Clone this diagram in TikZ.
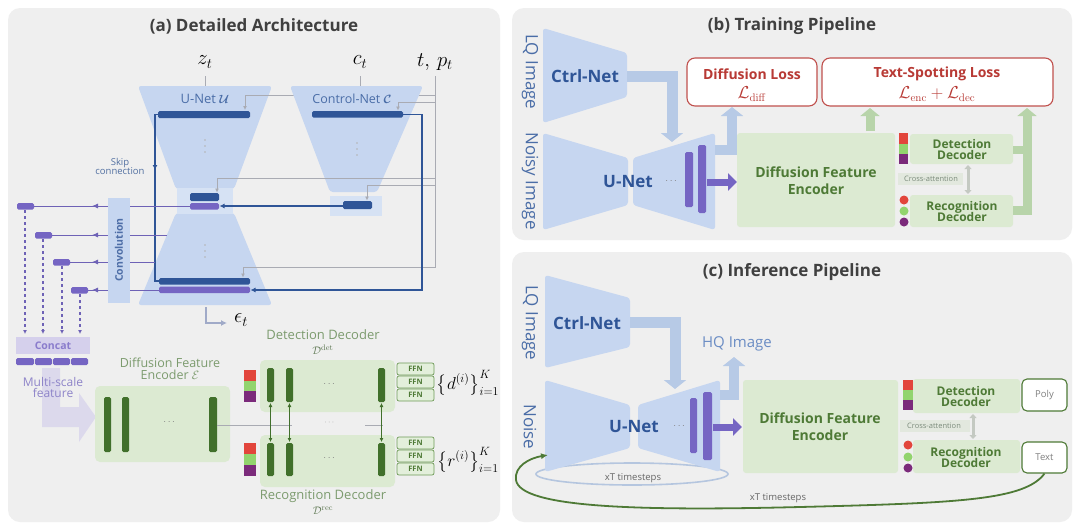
\documentclass[tikz,border=0pt]{standalone}
\usepackage[no-math]{fontspec}
\setmainfont{Open Sans}
\usepackage{amsmath}
\usetikzlibrary{arrows.meta,calc}
\definecolor{panelbg}{HTML}{EFEFEF}
\definecolor{titlegray}{HTML}{404040}
\definecolor{ublue}{HTML}{C6D6F0}
\definecolor{ubluelt}{HTML}{D6E2F4}
\definecolor{dblue}{HTML}{2F5597}
\definecolor{netlbl}{HTML}{4A6DA7}
\definecolor{purpbar}{HTML}{7565C3}
\definecolor{purpline}{HTML}{6E62B6}
\definecolor{glinec}{HTML}{A9ABB3}
\definecolor{lav}{HTML}{D5D0EC}
\definecolor{lavtext}{HTML}{8E84C9}
\definecolor{gbox}{HTML}{DCEAD2}
\definecolor{dgreen}{HTML}{41702B}
\definecolor{gtext}{HTML}{4E7A36}
\definecolor{glabel}{HTML}{7C9B6E}
\definecolor{lossred}{HTML}{C0504D}
\definecolor{losstext}{HTML}{B83A35}
\definecolor{arrblue}{HTML}{B7CAE6}
\definecolor{arrgreen}{HTML}{B8D4AA}
\definecolor{sqred}{HTML}{E2453C}
\definecolor{sqgreen}{HTML}{92D46E}
\definecolor{sqpurp}{HTML}{7B2A7B}
\definecolor{ffnfill}{HTML}{E3EFDB}
\definecolor{ffndraw}{HTML}{6E9A57}
\definecolor{cabox}{HTML}{E2E8DE}
\definecolor{catext}{HTML}{7A8A7A}
\definecolor{epsgray}{HTML}{A0AAC8}
\definecolor{hqblue}{HTML}{6A8CC4}
\definecolor{ellc}{HTML}{B5C6DF}
\tikzset{
  panel/.style={fill=panelbg, rounded corners=12},
  ttl/.style={font=\fontsize{17}{19}\selectfont\bfseries, text=titlegray},
  unet/.style={fill=ublue, rounded corners=3},
  dbar/.style={fill=dblue, rounded corners=1.5},
  pbar/.style={fill=purpbar, rounded corners=1.5},
  gbar/.style={fill=dgreen, rounded corners=1.5},
  gline/.style={draw=glinec, line width=0.8},
  garr/.style={gline, -{Latex[length=4pt,width=4pt]}},
  bline/.style={draw=dblue, line width=1.1},
  barr/.style={bline, -{Latex[length=5pt,width=5pt]}},
  pline/.style={draw=purpline, line width=0.9},
  parr/.style={pline, -{Latex[length=6pt,width=5pt]}},
  dasharr/.style={draw=purpline, line width=1.1, dashed, -{Latex[length=4pt,width=4pt]}},
  greenbox/.style={fill=gbox, rounded corners=5},
  ffnbox/.style={draw=ffndraw, fill=ffnfill, rounded corners=2, line width=0.7,
     font=\fontsize{7.5}{8}\selectfont\bfseries, text=gtext},
  bigblue/.style={draw=arrblue, line width=11, -{Triangle[length=9pt,width=22pt]}},
  biggreen/.style={draw=arrgreen, line width=9, -{Triangle[length=8pt,width=19pt]}},
  bigpurp/.style={draw=purpbar, line width=7, -{Triangle[length=9pt,width=17pt]}},
  lossbox/.style={draw=lossred, fill=white, line width=1.1, rounded corners=8},
  decbox/.style={fill=gbox, rounded corners=3},
  dectext/.style={font=\fontsize{12}{13}\selectfont\bfseries, text=gtext, align=center},
  outbox/.style={draw=gtext, fill=white, line width=1.1, rounded corners=5,
     font=\fontsize{9.5}{10}\selectfont, text=gray},
  rottext/.style={font=\fontsize{17}{19}\selectfont, text=netlbl},
  ctrltext/.style={font=\fontsize{17}{19}\selectfont\bfseries, text=dblue},
  encotext/.style={font=\fontsize{14}{17}\selectfont\bfseries, text=gtext, align=center},
  vdot/.style={fill=gray!60},
  losstitle/.style={font=\fontsize{14}{16}\selectfont\bfseries, text=losstext},
  lossmath/.style={font=\fontsize{16}{17}\selectfont, text=losstext},
}
\begin{document}
\begin{tikzpicture}[x=1pt,y=-1pt]
\useasboundingbox (0,0) rectangle (1080,531);
\fill[white] (0,0) rectangle (1080,531);

% ===================== Panel (a) =====================
\fill[panel] (8,8) rectangle (500,522);
\node[ttl] (ta) at (254,26) {(a) Detailed Architecture};

% inputs
\node (zt) at (205,62) {\fontsize{20}{20}\selectfont $z_t$};
\node (ct) at (360,62) {\fontsize{20}{20}\selectfont $c_t$};
\node (tpt) at (435,62) {\fontsize{20}{20}\selectfont $t,\,p_t$};
\draw[gline] (205,76) -- (205,86);
\draw[gline] (360,76) -- (360,86);

% U-Net hourglass
\fill[unet] (138,86) -- (272,86) -- (234,189) -- (176,189) -- cycle;
\fill[unet] (176,213) -- (234,213) -- (272,305) -- (138,305) -- cycle;
\fill[ubluelt] (177,188) rectangle (233,214);
\node[font=\fontsize{13}{14}\selectfont, text=netlbl] (unetlbl) at (205,99) {U-Net $\boldsymbol{\mathcal{U}}$};
\foreach \yy in {140,146,152}{ \fill[vdot] (205,\yy) circle (0.9); }
\foreach \yy in {245,251,257}{ \fill[vdot] (205,\yy) circle (0.9); }

% t,p_t line to U-Net top (behind Control-Net)
\draw[gline] (435,76) -- (435,268);
\draw[garr] (435,95) -- (245,95) -- (245,110);

% Control-Net
\fill[unet] (290,86) -- (423,86) -- (377,192) -- (330,192) -- cycle;
\fill[ubluelt] (330,196) rectangle (382,216);
\node[font=\fontsize{12.5}{14}\selectfont, text=netlbl] (cnlbl) at (352,99) {Control-Net $\boldsymbol{\mathcal{C}}$};
\foreach \yy in {143,149,155}{ \fill[vdot] (357,\yy) circle (0.9); }

% bars
\fill[dbar] (158,111) rectangle (250,118);
\fill[dbar] (190,193) rectangle (219,201);
\fill[pbar] (190,203) rectangle (219,209.5);
\fill[dbar] (159,278) rectangle (250,284.5);
\fill[pbar] (159,286.5) rectangle (250,293);
\fill[dbar] (312,111) rectangle (403,117.5);
\fill[dbar] (343,201) rectangle (372,209);

% gray conditioning arrows
\draw[garr] (435,102) -- (398,102) -- (398,110.5);
\draw[garr] (435,178) -- (217,178) -- (217,192.5);
\draw[garr] (435,185) -- (367,185) -- (367,200.5);
\draw[garr] (435,267) -- (243,267) -- (243,277.5);

% dark blue Control-Net connections
\draw[barr] (403,114.5) -- (422,114.5) -- (422,290) -- (250.5,290);
\draw[barr] (343,206) -- (219.5,206);
% skip connection
\draw[barr] (158,114.5) -- (155,114.5) -- (155,170);
\draw[bline] (155,168) -- (155,281) -- (159,281);
\node[font=\fontsize{9.5}{11}\selectfont, text=netlbl!85!gray, align=center] (skip) at (120,166) {Skip\\[-2pt]connection};

% purple lines to convolution and small bars
\draw[pline] (190,206) -- (34,206);
\draw[pline] (167,235) -- (52,235);
\draw[pline] (155,262) -- (69,262);
\draw[pline] (159,290) -- (88,290);
\fill[ublue] (108,198) rectangle (130,303);
\node[rotate=90, font=\fontsize{10.5}{12}\selectfont\bfseries, text=dblue!85] (conv) at (119,250) {Convolution};
\foreach \yy in {206,235,262,290}{
  \draw[parr] (106,\yy) -- (92,\yy);
}
\fill[pbar] (17,203) rectangle (34,209.5);
\fill[pbar] (35,232) rectangle (52,238.5);
\fill[pbar] (53,259) rectangle (70,265.5);
\fill[pbar] (71,287) rectangle (88,293.5);
\draw[dasharr] (25,210) -- (25,334);
\draw[dasharr] (43,239) -- (43,334);
\draw[dasharr] (62,266) -- (62,334);
\draw[dasharr] (80,294) -- (80,334);

% Concat
\fill[lav] (16,337) rectangle (90,354);
\node[font=\fontsize{10.5}{12}\selectfont\bfseries, text=purpbar!85] (concat) at (53,345.5) {Concat};
\fill[pbar] (16,358) rectangle (34,365);
\fill[pbar] (35,358) rectangle (52,365);
\fill[pbar] (53,358) rectangle (70,365);
\fill[pbar] (71,358) rectangle (88,365);

% big lavender arrow (behind its label)
\fill[lav, opacity=0.7] (42,368) -- (60,368) -- (60,407) -- (79,407) -- (79,393) -- (96,417) -- (79,442) -- (79,427) -- (42,427) -- cycle;
\node[font=\fontsize{12}{14}\selectfont, text=lavtext, align=center] (msf) at (53,387) {Multi-scale\\[-3pt]feature};

% Diffusion feature encoder (a)
\fill[greenbox] (95,386) rectangle (230,462);
\node[font=\fontsize{12.5}{14}\selectfont, text=glabel, align=center] (encl) at (170,369) {Diffusion Feature\\[-2pt]Encoder $\mathcal{E}$};
\fill[gbar] (104,397) rectangle (111,452);
\fill[gbar] (122,397) rectangle (129,452);
\fill[gbar] (209,397) rectangle (217,452);
\node[text=gray] (encdots) at (170,422) {$\cdots$};

% decoders (a)
\fill[greenbox] (260,360) rectangle (395,412);
\fill[greenbox] (260,435) rectangle (395,487);
\draw[gline] (217,425) -- (292,425);
\draw[gline] (365,425) -- (383,425);
\node[text=gray!80, font=\fontsize{8}{8}\selectfont] (middots) at (330,423) {$\cdots$};
\node[font=\fontsize{13}{14}\selectfont, text=glabel] (detl) at (323,335) {Detection Decoder};
\node[font=\fontsize{11}{12}\selectfont, text=glabel!80!black] (detm) at (323,350) {$\mathcal{D}^{\mathrm{det}}$};
\node[font=\fontsize{13}{14}\selectfont, text=glabel] (recl) at (323,496) {Recognition Decoder};
\node[font=\fontsize{11}{12}\selectfont, text=glabel!80!black] (recm) at (323,511) {$\mathcal{D}^{\mathrm{rec}}$};
\foreach \xx in {267,286,378}{
  \fill[gbar] (\xx,368) rectangle ({\xx+7},402);
  \fill[gbar] (\xx,443) rectangle ({\xx+7},476);
  \draw[dgreen, line width=1.1, {Latex[length=4pt,width=4pt]}-{Latex[length=4pt,width=4pt]}] ({\xx+3.5},403) -- ({\xx+3.5},442);
}
\node[text=gray] (detdots) at (330,384) {$\cdots$};
\node[text=gray] (recdots) at (330,458) {$\cdots$};
% colour squares
\fill[sqred] (244,370) rectangle (256,380.5);
\fill[sqgreen] (244,380.5) rectangle (256,391);
\fill[sqpurp] (244,391) rectangle (256,402);
\fill[sqred] (244,443) rectangle (256,454);
\fill[sqgreen] (244,454) rectangle (256,465);
\fill[sqpurp] (244,465) rectangle (256,476);
% FFN boxes
\foreach \yy/\nm in {363/f1,376/f2,389/f3,437/f4,450/f5,463/f6}{
  \node[ffnbox, minimum width=37pt, minimum height=12pt, inner sep=0pt] (\nm) at (415.5,{\yy+6}) {FFN};
}
\node[font=\fontsize{17}{18}\selectfont] (dset) at (468,383) {$\left\{d^{(i)}\right\}_{i=1}^{K}$};
\node[font=\fontsize{17}{18}\selectfont] (rset) at (468,460) {$\left\{r^{(i)}\right\}_{i=1}^{K}$};

% epsilon output
\draw[draw=epsgray, line width=1.2, -{Latex[length=6pt,width=6pt]}] (206,307) -- (206,323) -- (227,323);
\node[font=\fontsize{20}{20}\selectfont] (eps) at (241,320) {$\epsilon_t$};

% ===================== Panel (b) =====================
\fill[panel] (512,8) rectangle (1072,240);
\node[ttl] (tb) at (792,26) {(b) Training Pipeline};
\node[rottext, rotate=-90] (lqb) at (530,72) {LQ Image};
\node[rottext, rotate=-90] (noisyb) at (530,181) {Noisy Image};
\fill[unet] (543,28) -- (627,53) -- (627,97) -- (543,123) -- cycle;
\node[ctrltext] (ctrlb) at (585,76) {Ctrl-Net};
\fill[unet] (543,133) -- (628,158) -- (628,205) -- (543,230) -- cycle;
\fill[unet] (633,158) -- (715,133) -- (715,230) -- (633,205) -- cycle;
\node[ctrltext] (unetb) at (628,182) {U-Net};
\node[text=gray] (udotsb) at (672,181) {$\cdots$};
\fill[pbar] (685,152) rectangle (693,207);
\fill[pbar] (698,145) rectangle (706,213);
\draw[bigblue] (627,76) -- (672,76) -- (672,142);
\draw[bigblue, line width=10] (715,150) -- (732,150) -- (732,107);
\draw[bigpurp] (707,182) -- (737,182);
\draw[lossbox] (687,58) rectangle (817,106);
\node[losstitle] (dl) at (752,74) {Diffusion Loss};
\node[lossmath] (dlm) at (752,94) {$\mathcal{L}_{\mathrm{diff}}$};
\draw[lossbox] (822,58) rectangle (1053,106);
\node[losstitle] (tsl) at (937,74) {Text-Spotting Loss};
\node[lossmath] (tslm) at (937,94) {$\mathcal{L}_{\mathrm{enc}}+\mathcal{L}_{\mathrm{dec}}$};
\fill[decbox] (737,133) rectangle (895,227);
\node[encotext] (encb) at (816,181) {Diffusion Feature\\Encoder};
\draw[biggreen] (870,131) -- (870,108);
\fill[sqred] (899,133) rectangle (908,143.5);
\fill[sqgreen] (899,143.5) rectangle (908,154);
\fill[sqpurp] (899,154) rectangle (908,164);
\fill[decbox] (910,134) rectangle (1013,164);
\node[dectext] (detb) at (962,149) {Detection\\[-2pt]Decoder};
\draw[draw=cabox!70!gray, line width=3, {Triangle[length=4pt,width=7pt]}-{Triangle[length=4pt,width=7pt]}] (968,165) -- (968,194);
\fill[cabox] (898,173) rectangle (963,185);
\node[font=\fontsize{7.5}{8}\selectfont, text=catext] (cab) at (931,179) {Cross-attention};
\fill[sqred] (904,200) circle (4.5);
\fill[sqgreen] (904,211) circle (4.5);
\fill[sqpurp] (904,222) circle (4.5);
\fill[decbox] (910,195) rectangle (1013,227);
\node[dectext] (recb) at (962,211) {Recognition\\[-2pt]Decoder};
\draw[draw=arrgreen, line width=8] (1013,150) -- (1031,150);
\draw[biggreen] (1013,210) -- (1027,210) -- (1027,108);

% ===================== Panel (c) =====================
\fill[panel] (512,252) rectangle (1072,522);
\node[ttl] (tc) at (792,272) {(c) Inference Pipeline};
\node[rottext, rotate=-90] (lqc) at (530,323) {LQ Image};
\node[rottext, rotate=-90] (noisec) at (530,427) {Noise};
\draw[draw=ellc, line width=1.6] (632,474) ellipse [x radius=96, y radius=11];
\fill[unet] (545,275) -- (630,298) -- (630,347) -- (545,368) -- cycle;
\node[ctrltext] (ctrlc) at (587,323) {Ctrl-Net};
\fill[unet] (545,380) -- (630,405) -- (630,448) -- (545,472) -- cycle;
\fill[unet] (638,405) -- (720,380) -- (720,472) -- (638,448) -- cycle;
\node[ctrltext] (unetc) at (634,427) {U-Net};
\node[text=gray] (udotsc) at (680,426) {$\cdots$};
\node[font=\fontsize{9.5}{10}\selectfont, text=titlegray!80] (xt1) at (633,478) {xT timesteps};
\fill[pbar] (690,398) rectangle (697,453);
\fill[pbar] (703,392) rectangle (712,460);
\draw[bigblue] (630,322) -- (675,322) -- (675,389);
\draw[bigblue, line width=10] (720,395) -- (734,395) -- (734,357);
\node[font=\fontsize{15}{17}\selectfont, text=hqblue] (hq) at (737,344) {HQ Image};
\draw[bigpurp] (713,427) -- (742,427);
\fill[decbox] (743,380) rectangle (898,473);
\node[encotext] (encc) at (820,427) {Diffusion Feature\\Encoder};
\fill[sqred] (903,380) rectangle (913,390);
\fill[sqgreen] (903,390) rectangle (913,400);
\fill[sqpurp] (903,400) rectangle (913,410);
\fill[decbox] (913,379) rectangle (1020,413);
\node[dectext] (detc) at (966,396) {Detection\\[-2pt]Decoder};
\draw[draw=cabox!70!gray, line width=3, {Triangle[length=4pt,width=7pt]}-{Triangle[length=4pt,width=7pt]}] (973,414) -- (973,439);
\fill[cabox] (900,420) rectangle (970,432);
\node[font=\fontsize{7.5}{8}\selectfont, text=catext] (cac) at (934,426) {Cross-attention};
\fill[sqred] (908,445) circle (4.5);
\fill[sqgreen] (908,457) circle (4.5);
\fill[sqpurp] (908,468) circle (4.5);
\fill[decbox] (913,440) rectangle (1020,473);
\node[dectext] (recc) at (966,457) {Recognition\\[-2pt]Decoder};
\node[outbox, minimum width=45pt, minimum height=32pt, inner sep=0pt] (poly) at (1044.5,395) {Poly};
\node[outbox, minimum width=45pt, minimum height=31pt, inner sep=0pt] (textout) at (1044.5,457.5) {Text};
\draw[draw=gtext, line width=1.8, -{Latex[length=7pt,width=6pt]}] (textout.south) .. controls (1025,500) and (960,503) .. (800,507) .. controls (640,511) and (520,508) .. (516,480) .. controls (514,466) and (530,458) .. (548,455);
\node[font=\fontsize{9.5}{10}\selectfont, text=titlegray!80] (xt2) at (778,498) {xT timesteps};
\end{tikzpicture}
\end{document}
